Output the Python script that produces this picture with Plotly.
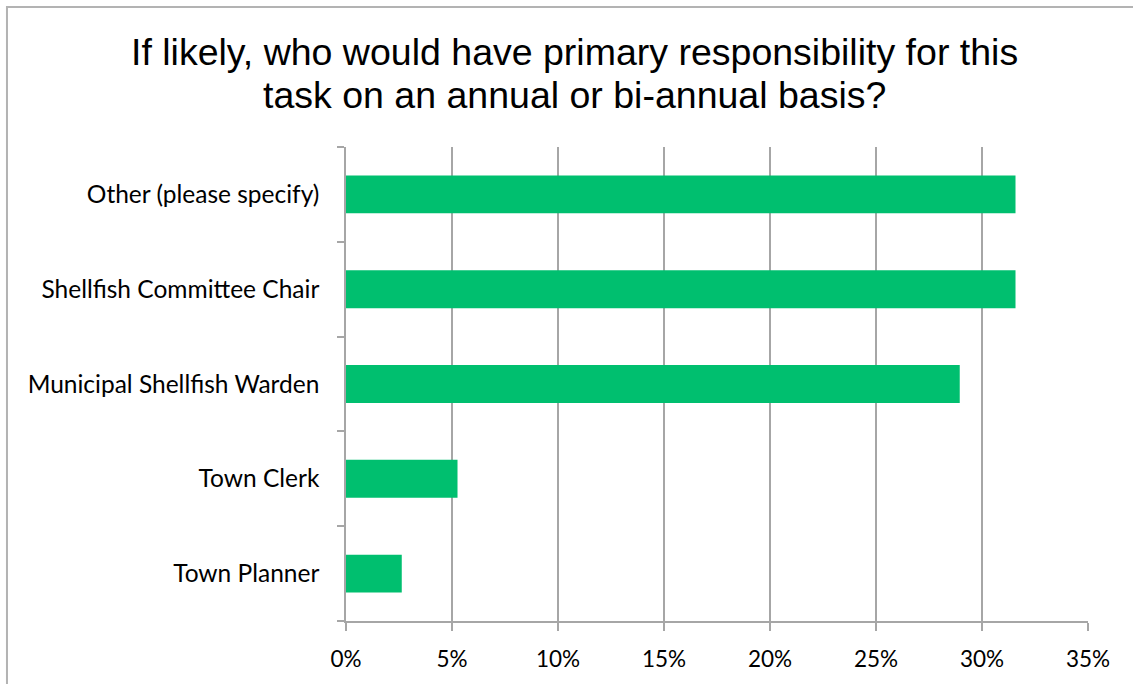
import plotly.graph_objects as go

# Survey responses (share of respondents), listed bottom to top
roles = [
    "Town Planner",
    "Town Clerk",
    "Municipal Shellfish Warden",
    "Shellfish Committee Chair",
    "Other (please specify)",
]
shares = [2.63, 5.26, 28.95, 31.58, 31.58]
x_ticks = [0, 5, 10, 15, 20, 25, 30, 35]
x_tick_text = ["0%", "5%", "10%", "15%", "20%", "25%", "30%", "35%"]

title_lines = [
    "If likely, who would have primary responsibility for this",
    "task on an annual or bi-annual basis?",
]
title_line_y = [1.2004, 1.1097]

GREEN = "#00BF6F"
GRID = "#A6A6A6"
LABEL_FONT = "Lato, Calibri, Carlito, sans-serif"
TITLE_FONT = "Liberation Sans, Arial, sans-serif"

fig = go.Figure(
    go.Bar(
        x=shares,
        y=roles,
        orientation="h",
        marker=dict(color=GREEN, line=dict(width=0)),
        hoverinfo="skip",
    )
)

fig.update_layout(
    width=1133,
    height=684,
    margin=dict(l=346, r=45, t=147, b=63),
    paper_bgcolor="white",
    plot_bgcolor="white",
    bargap=0.6,
    showlegend=False,
    font=dict(family=LABEL_FONT, size=22, color="black"),
    xaxis=dict(
        range=[0, 35],
        tickvals=x_ticks,
        ticktext=x_tick_text,
        showgrid=True,
        gridcolor=GRID,
        gridwidth=1.5,
        zeroline=False,
        showline=True,
        linecolor=GRID,
        linewidth=1.5,
        ticks="outside",
        ticklen=8,
        tickcolor=GRID,
        tickwidth=1.5,
        ticklabelstandoff=9,
        tickfont=dict(family=LABEL_FONT, size=22.5, color="black"),
        fixedrange=True,
    ),
    yaxis=dict(
        categoryorder="array",
        categoryarray=roles,
        showgrid=False,
        zeroline=False,
        showline=True,
        linecolor=GRID,
        linewidth=1.5,
        ticks="outside",
        tickson="boundaries",
        ticklen=7,
        tickcolor=GRID,
        tickwidth=1.5,
        ticklabelstandoff=20,
        tickfont=dict(family=LABEL_FONT, size=24.5, color="black"),
        fixedrange=True,
    ),
    annotations=[
        dict(
            text=line,
            xref="paper",
            yref="paper",
            x=0.3086,
            y=ly,
            xanchor="center",
            yanchor="middle",
            showarrow=False,
            align="center",
            font=dict(family=TITLE_FONT, size=37.5, color="black"),
        )
        for line, ly in zip(title_lines, title_line_y)
    ],
    shapes=[
        # outer chart frame
        dict(
            type="rect",
            xref="paper",
            yref="paper",
            x0=-0.4569,
            x1=1.3,
            y0=-0.3,
            y1=1.2954,
            line=dict(color="#B3B3B3", width=2),
            fillcolor="rgba(0,0,0,0)",
            layer="below",
        )
    ],
)

fig.write_html("out.html")
